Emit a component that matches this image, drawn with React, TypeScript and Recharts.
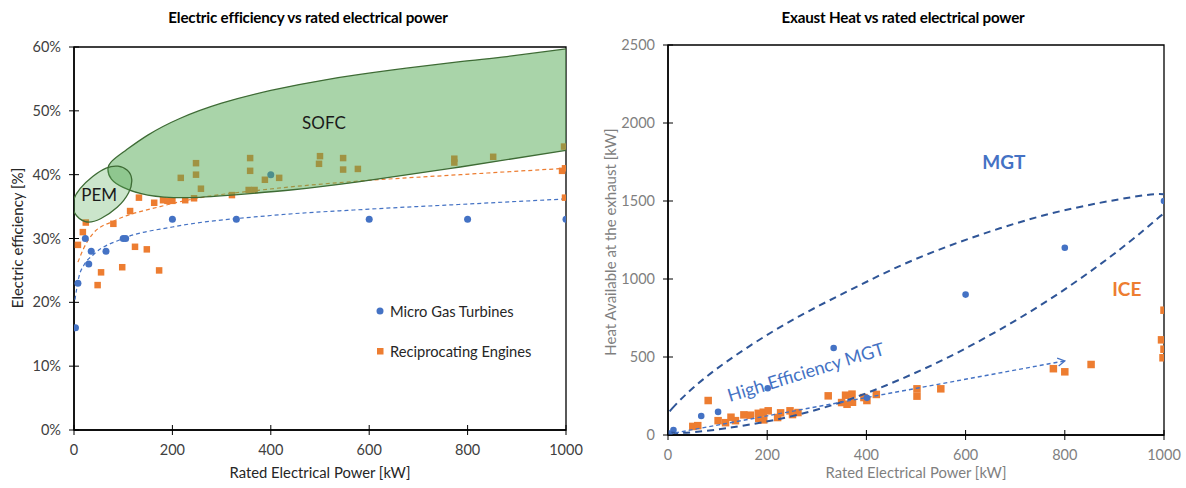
import React from "react";
import { ScatterChart, Scatter, XAxis, YAxis, ReferenceArea, ReferenceDot } from "recharts";

const FONT = "Lato, 'Open Sans', sans-serif";
const BLUE = "#4472C4";
const ORANGE = "#ED7D31";
const DARK_BLUE = "#2F5597";

const powerTicks = [0, 200, 400, 600, 800, 1000];
const effTicks = [0, 10, 20, 30, 40, 50, 60];
const heatTicks = [0, 500, 1000, 1500, 2000, 2500];

// left chart: electric efficiency [%] vs rated power [kW]
const mgtEffKw = [3, 8, 23, 30, 35, 65, 100, 105, 200, 330, 400, 600, 800, 1000];
const mgtEffPct = [16, 23, 30, 26, 28, 28, 30, 30, 33, 33, 40, 33, 33, 33];

const iceEffKw = [8, 18, 24, 48, 55, 80, 98, 114, 124, 132, 148, 163, 173, 181, 190, 200, 217, 226, 244, 248, 248, 258, 321, 355, 367, 358, 358, 388, 417, 498, 500, 547, 547, 577, 773, 773, 852, 996, 998, 992, 998];
const iceEffPct = [29, 31, 32.5, 22.7, 24.7, 32.3, 25.5, 34.3, 28.7, 36.4, 28.3, 35.6, 25, 36, 35.9, 35.9, 39.5, 36, 36.3, 40, 41.8, 37.8, 36.8, 37.6, 37.6, 42.6, 40.6, 39.2, 39.5, 41.7, 42.9, 42.6, 40.8, 40.9, 42.5, 41.9, 42.8, 44.4, 41, 40.6, 36.4];

// trend lines
const mgtTrendKw = [2, 10, 20, 40, 100, 200, 400, 600, 800, 1000];
const mgtTrendPct = [20.4, 24, 25.8, 27.5, 30, 31.8, 33.6, 34.6, 35.4, 36.2];
const iceTrendKw = [8, 20, 40, 80, 175, 250, 380, 580, 785, 1000];
const iceTrendPct = [26.3, 28.5, 30.9, 32.7, 35, 36.3, 37.6, 39, 40, 41];

// fuel cell regions (outline points)
const sofcKw = [1000, 880, 785, 648, 514, 400, 300, 215, 150, 105, 78, 69, 76, 100, 150, 230, 320, 440, 581, 785, 1000];
const sofcPct = [59.7, 58.5, 57.7, 56.4, 54.9, 53.2, 51.2, 48.8, 46.2, 43.8, 42.2, 40.9, 39.3, 38, 36.8, 36.4, 36.8, 37.6, 38.9, 41.2, 43.8];
const pemKw = [-4, 22, 53, 90, 114, 120, 110, 90, 66, 38, 10, -4];
const pemPct = [34.2, 32.2, 32.9, 34.8, 37.2, 39.4, 40.8, 41.5, 41.2, 39.8, 37.8, 35.8];

// right chart: exhaust heat [kW] vs rated power [kW]
const mgtHeatKw = [3, 11, 67, 101, 201, 334, 401, 600, 800, 1000];
const mgtHeatVal = [10, 32, 122, 148, 300, 558, 238, 900, 1200, 1500];

const iceHeatKw = [50, 60, 81, 101, 116, 127, 136, 153, 166, 182, 183, 193, 192, 202, 221, 227, 246, 251, 262, 323, 350, 358, 361, 371, 372, 395, 401, 420, 502, 502, 550, 777, 800, 853, 1000, 995, 1000, 998];
const iceHeatVal = [55, 60, 221, 92, 79, 114, 92, 129, 127, 139, 107, 97, 146, 155, 112, 142, 155, 131, 144, 251, 208, 255, 197, 262, 210, 240, 221, 260, 296, 249, 296, 425, 405, 452, 800, 610, 550, 495];

// MGT zone outline (upper edge left->right, then lower edge right->left)
const mgtZoneKw = [-14, 0, 65, 165, 266, 367, 468, 569, 669, 770, 871, 952, 994, 1014, 1022, 1012, 992, 952, 871, 770, 669, 569, 468, 367, 266, 165, 65, 8, -10];
const mgtZoneVal = [70, 150, 353, 577, 769, 929, 1090, 1218, 1327, 1423, 1490, 1535, 1550, 1535, 1495, 1445, 1405, 1290, 1090, 865, 673, 500, 353, 224, 128, 64, 19, 8, 30];

const highEffKw = [0, 800];
const highEffVal = [5, 475];

const legendItems = [
  { name: "Micro Gas Turbines", color: BLUE, marker: "circle" },
  { name: "Reciprocating Engines", color: ORANGE, marker: "square" },
];

const zip = (xs: number[], ys: number[]) => xs.map((x, i) => ({ x, y: ys[i] }));

const noDot = () => <g />;
const circleShape = (r: number, color: string) => (p: any) => (
  <circle cx={p.cx} cy={p.cy} r={r} fill={color} />
);
const squareShape = (s: number, color: string) => (p: any) => (
  <rect x={p.cx - s / 2} y={p.cy - s / 2} width={s} height={s} fill={color} />
);

const makeYTick = (gap: number, color: string, fmt: (v: number) => string) => (props: any) => {
  const { x, y, payload } = props;
  const ax = x + gap;
  return (
    <g>
      <line x1={ax - 5} x2={ax + 5} y1={y} y2={y} stroke="#000" strokeWidth={1} />
      <text x={x} y={y} dy={5} textAnchor="end" fill={color} fontSize={14.5} fontFamily={FONT}>
        {fmt(payload.value)}
      </text>
    </g>
  );
};

const makeXTick = (gap: number, color: string) => (props: any) => {
  const { x, y, payload } = props;
  const ay = y - gap;
  return (
    <g>
      <line x1={x} x2={x} y1={ay - 5} y2={ay + 5} stroke="#000" strokeWidth={1} />
      <text x={x} y={y} dy={11} textAnchor="middle" fill={color} fontSize={14.5} fontFamily={FONT}>
        {payload.value}
      </text>
    </g>
  );
};

const textStyle = (left: number, top: number, extra: React.CSSProperties = {}): React.CSSProperties => ({
  position: "absolute",
  left,
  top,
  transform: "translate(-50%, -50%)",
  whiteSpace: "nowrap",
  fontFamily: FONT,
  ...extra,
});

function EfficiencyChart() {
  return (
    <ScatterChart width={600} height={488} margin={{ top: 47, right: 34, bottom: 18, left: 0 }}>
      <XAxis
        type="number"
        dataKey="x"
        domain={[0, 1000]}
        ticks={powerTicks}
        allowDataOverflow
        height={40}
        tickSize={0}
        tickMargin={14}
        tickLine={false}
        axisLine={{ stroke: "#000", strokeWidth: 1.5 }}
        tick={makeXTick(14, "#404040")}
      />
      <YAxis
        type="number"
        dataKey="y"
        domain={[0, 60]}
        ticks={effTicks}
        allowDataOverflow
        width={74}
        tickSize={0}
        tickMargin={13}
        tickLine={false}
        axisLine={{ stroke: "#000", strokeWidth: 1.5 }}
        tick={makeYTick(13, "#404040", (v) => `${v}%`)}
      />
      <ReferenceArea x1={0} x2={1000} y1={0} y2={60} fill="none" stroke="#000" strokeWidth={1.3} ifOverflow="visible" />
      <Scatter
        data={zip(mgtTrendKw, mgtTrendPct)}
        fill={BLUE}
        shape={noDot}
        line={{ stroke: BLUE, strokeWidth: 1.2, strokeDasharray: "4 3" }}
        lineJointType="monotoneX"
        isAnimationActive={false}
      />
      <Scatter
        data={zip(iceTrendKw, iceTrendPct)}
        fill={ORANGE}
        shape={noDot}
        line={{ stroke: ORANGE, strokeWidth: 1.2, strokeDasharray: "4 3" }}
        lineJointType="monotoneX"
        isAnimationActive={false}
      />
      <Scatter data={zip(iceEffKw, iceEffPct)} fill={ORANGE} shape={squareShape(6.5, ORANGE)} isAnimationActive={false} />
      <Scatter data={zip(mgtEffKw, mgtEffPct)} fill={BLUE} shape={circleShape(3.5, BLUE)} isAnimationActive={false} />
      <Scatter
        data={zip(sofcKw, sofcPct)}
        fill="#3e6b35"
        shape={noDot}
        line={{ fill: "#54aa54", fillOpacity: 0.5, stroke: "#3e6b35", strokeWidth: 1.3 }}
        lineJointType="natural"
        isAnimationActive={false}
      />
      <Scatter
        data={zip(pemKw, pemPct)}
        fill="#3e6b35"
        shape={noDot}
        line={{ fill: "#54aa54", fillOpacity: 0.3, stroke: "#3e6b35", strokeWidth: 1.3 }}
        lineJointType="basisClosed"
        isAnimationActive={false}
      />
      <ReferenceDot x={508} y={48.1} r={0} ifOverflow="visible"
        label={{ value: "SOFC", position: "center", fill: "#1a1a1a", fontSize: 17, fontFamily: FONT }} />
      <ReferenceDot x={51} y={36.8} r={0} ifOverflow="visible"
        label={{ value: "PEM", position: "center", fill: "#1a1a1a", fontSize: 17, fontFamily: FONT }} />
    </ScatterChart>
  );
}

function HeatChart() {
  return (
    <ScatterChart width={586} height={488} margin={{ top: 45, right: 22, bottom: 13, left: 0 }}>
      <XAxis
        type="number"
        dataKey="x"
        domain={[0, 1000]}
        ticks={powerTicks}
        allowDataOverflow
        height={40}
        tickSize={0}
        tickMargin={14}
        tickLine={false}
        axisLine={{ stroke: "#000", strokeWidth: 1.5 }}
        tick={makeXTick(14, "#7f7f7f")}
      />
      <YAxis
        type="number"
        dataKey="y"
        domain={[0, 2500]}
        ticks={heatTicks}
        allowDataOverflow
        width={68}
        tickSize={0}
        tickMargin={13}
        tickLine={false}
        axisLine={{ stroke: "#000", strokeWidth: 1.5 }}
        tick={makeYTick(13, "#7f7f7f", (v) => `${v}`)}
      />
      <ReferenceArea x1={0} x2={1000} y1={0} y2={2500} fill="none" stroke="#000" strokeWidth={1.3} ifOverflow="visible" />
      <Scatter data={zip(iceHeatKw, iceHeatVal)} fill={ORANGE} shape={squareShape(7.5, ORANGE)} isAnimationActive={false} />
      <Scatter data={zip(mgtHeatKw, mgtHeatVal)} fill={BLUE} shape={circleShape(3.3, BLUE)} isAnimationActive={false} />
      <Scatter
        data={zip(mgtZoneKw, mgtZoneVal)}
        fill={DARK_BLUE}
        shape={noDot}
        line={{ fill: "none", stroke: DARK_BLUE, strokeWidth: 2, strokeDasharray: "7 5" }}
        lineJointType="basisClosed"
        isAnimationActive={false}
      />
      <Scatter
        data={zip(highEffKw, highEffVal)}
        fill={BLUE}
        shape={noDot}
        line={{ stroke: BLUE, strokeWidth: 1.4, strokeDasharray: "4 3", markerEnd: "url(#heArrow)" }}
        isAnimationActive={false}
      />
      <ReferenceDot x={677} y={1750} r={0} ifOverflow="visible"
        label={{ value: "MGT", position: "center", fill: BLUE, fontSize: 19, fontWeight: 700, fontFamily: FONT }} />
      <ReferenceDot x={925} y={936} r={0} ifOverflow="visible"
        label={{ value: "ICE", position: "center", fill: ORANGE, fontSize: 19, fontWeight: 700, fontFamily: FONT }} />
      <ReferenceDot x={278} y={404} r={0} ifOverflow="visible"
        label={{ value: "High Efficiency MGT", position: "center", angle: -17, fill: BLUE, fontSize: 18, fontFamily: FONT }} />
    </ScatterChart>
  );
}

export default function App() {
  return (
    <div style={{ position: "absolute", left: 0, top: 0, width: 1186, height: 488, background: "#fff", fontFamily: FONT }}>
      <svg width={0} height={0} style={{ position: "absolute" }}>
        <defs>
          <marker id="heArrow" markerWidth={12} markerHeight={12} refX={8} refY={5} orient="auto" markerUnits="userSpaceOnUse">
            <path d="M1,1 L8,5 L1,9" fill="none" stroke={BLUE} strokeWidth={1.3} />
          </marker>
        </defs>
      </svg>
      <div style={{ position: "absolute", left: 0, top: 0 }}>
        <EfficiencyChart />
      </div>
      <div style={{ position: "absolute", left: 600, top: 0 }}>
        <HeatChart />
      </div>

      <div style={textStyle(308, 17, { fontSize: 15.2, fontWeight: 700, color: "#000", letterSpacing: -0.2 })}>
        Electric efficiency vs rated electrical power
      </div>
      <div style={textStyle(903, 17, { fontSize: 15.2, fontWeight: 700, color: "#000", letterSpacing: -0.2 })}>
        Exaust Heat vs rated electrical power
      </div>
      <div style={textStyle(320, 472, { fontSize: 14.8, color: "#262626" })}>Rated Electrical Power [kW]</div>
      <div style={textStyle(916, 472, { fontSize: 14.8, color: "#7f7f7f" })}>Rated Electrical Power [kW]</div>
      <div style={textStyle(17, 238, { fontSize: 15, color: "#262626", transform: "translate(-50%, -50%) rotate(-90deg)" })}>
        Electric efficiency [%]
      </div>
      <div style={textStyle(610, 242, { fontSize: 15, color: "#7f7f7f", transform: "translate(-50%, -50%) rotate(-90deg)" })}>
        Heat Available at the exhaust [kW]
      </div>

      <div style={{ position: "absolute", left: 374, top: 300, fontSize: 14.7, color: "#262626" }}>
        {legendItems.map((item) => (
          <div key={item.name} style={{ display: "flex", alignItems: "center", height: 22, marginBottom: 18 }}>
            <svg width={14} height={14} style={{ marginRight: 2 }}>
              {item.marker === "circle" ? (
                <circle cx={6} cy={7} r={3.5} fill={item.color} />
              ) : (
                <rect x={3} y={4} width={6.5} height={6.5} fill={item.color} />
              )}
            </svg>
            <span>{item.name}</span>
          </div>
        ))}
      </div>
    </div>
  );
}
